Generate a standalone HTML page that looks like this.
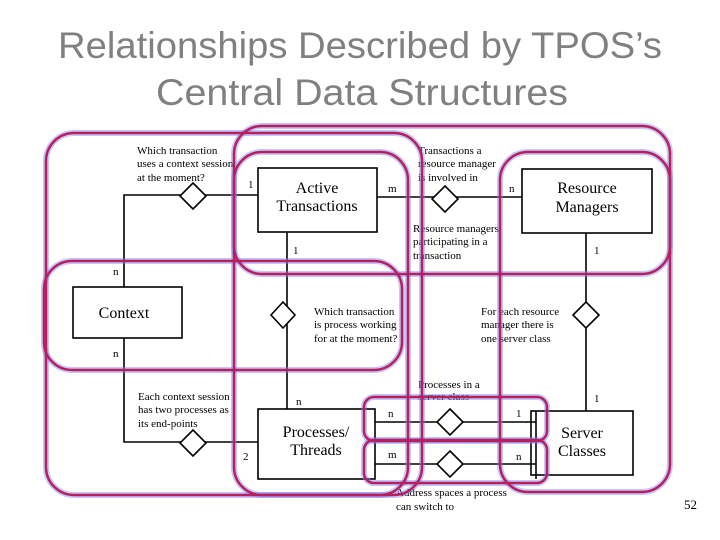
<!DOCTYPE html>
<html><head><meta charset="utf-8"><style>
html,body{margin:0;padding:0;background:#fff;width:720px;height:540px;overflow:hidden}
svg{display:block}
.t{font-family:"Liberation Serif",serif;font-size:11px;fill:#000}
.b{font-family:"Liberation Serif",serif;font-size:16px;fill:#000;text-anchor:middle}
.r{fill:none;stroke:#b8205a;stroke-width:2.5}
.g{fill:none;stroke:#8080ff;stroke-width:6;opacity:.45}
</style></head><body>
<svg width="720" height="540" viewBox="0 0 720 540">
<text x="360" y="58" text-anchor="middle" font-family="Liberation Sans,sans-serif" font-size="37" fill="#808080" textLength="604" lengthAdjust="spacingAndGlyphs">Relationships Described by TPOS’s</text>
<text x="362" y="105" text-anchor="middle" font-family="Liberation Sans,sans-serif" font-size="37" fill="#808080" textLength="412" lengthAdjust="spacingAndGlyphs">Central Data Structures</text>

<g stroke="#000" stroke-width="1.6" fill="none">
<rect x="258" y="168" width="119" height="64"/>
<rect x="522" y="169" width="130" height="64"/>
<rect x="73" y="287" width="109" height="51"/>
<rect x="258" y="409" width="117" height="70"/>
<rect x="531" y="411" width="102" height="64"/>
<line x1="536" y1="411" x2="536" y2="479"/>
<polyline points="124,287 124,195 258,195"/>
<polyline points="124,338 124,442 258,442"/>
<line x1="377" y1="197" x2="522" y2="197"/>
<line x1="287" y1="232" x2="287" y2="409"/>
<line x1="586" y1="233" x2="586" y2="411"/>
<line x1="375" y1="422" x2="536" y2="422"/>
<line x1="375" y1="464" x2="536" y2="464"/>
</g>
<g stroke="#000" stroke-width="1.6" fill="#fff">
<polygon points="193,183 206,196 193,209 180,196"/>
<polygon points="445,186 458,199 445,212 432,199"/>
<polygon points="283,302 295,315 283,328 271,315"/>
<polygon points="586,302 599,315 586,328 573,315"/>
<polygon points="193,430 206,443 193,456 180,443"/>
<polygon points="450,409 463,422 450,435 437,422"/>
<polygon points="450,451 463,464 450,477 437,464"/>
</g>

<text class="b" x="317" y="193">Active</text>
<text class="b" x="317" y="211">Transactions</text>
<text class="b" x="587" y="193">Resource</text>
<text class="b" x="587" y="212">Managers</text>
<text class="b" x="124" y="318">Context</text>
<text class="b" x="316" y="437">Processes/</text>
<text class="b" x="316" y="455">Threads</text>
<text class="b" x="582" y="438">Server</text>
<text class="b" x="582" y="456">Classes</text>

<g class="t">
<text x="137" y="154">Which transaction</text>
<text x="137" y="167">uses a context session</text>
<text x="137" y="181">at the moment?</text>
<text x="418" y="154">Transactions a</text>
<text x="418" y="167">resource manager</text>
<text x="418" y="181">is involved in</text>
<text x="413" y="232">Resource managers</text>
<text x="413" y="245">participating in a</text>
<text x="413" y="259">transaction</text>
<text x="314" y="315">Which transaction</text>
<text x="314" y="328">is process working</text>
<text x="314" y="342">for at the moment?</text>
<text x="481" y="315">For each resource</text>
<text x="481" y="328">manager there is</text>
<text x="481" y="342">one server class</text>
<text x="138" y="400">Each context session</text>
<text x="138" y="413">has two processes as</text>
<text x="138" y="427">its end-points</text>
<text x="418" y="388">Processes in a</text>
<text x="418" y="400">server class</text>
<text x="396" y="496">Address spaces a process</text>
<text x="396" y="510">can switch to</text>
<text x="248" y="188">1</text>
<text x="388" y="192">m</text>
<text x="509" y="192">n</text>
<text x="293" y="254">1</text>
<text x="594" y="254">1</text>
<text x="113" y="275">n</text>
<text x="113" y="357">n</text>
<text x="296" y="405">n</text>
<text x="594" y="402">1</text>
<text x="388" y="417">n</text>
<text x="516" y="417">1</text>
<text x="243" y="460">2</text>
<text x="388" y="458">m</text>
<text x="516" y="460">n</text>
<text x="684" y="509" font-size="13">52</text>
</g>

<g>
<rect class="g" x="46" y="133" width="376" height="362" rx="28"/>
<rect class="g" x="234" y="126" width="436" height="148" rx="28"/>
<rect class="g" x="234" y="152" width="174" height="343" rx="28"/>
<rect class="g" x="44" y="261" width="358" height="109" rx="28"/>
<rect class="g" x="500" y="152" width="170" height="340" rx="28"/>
<rect class="g" x="364" y="397" width="183" height="44" rx="10"/>
<rect class="g" x="364" y="440" width="183" height="43" rx="10"/>
<rect class="r" x="46" y="133" width="376" height="362" rx="28"/>
<rect class="r" x="234" y="126" width="436" height="148" rx="28"/>
<rect class="r" x="234" y="152" width="174" height="343" rx="28"/>
<rect class="r" x="44" y="261" width="358" height="109" rx="28"/>
<rect class="r" x="500" y="152" width="170" height="340" rx="28"/>
<rect class="r" x="364" y="397" width="183" height="44" rx="10"/>
<rect class="r" x="364" y="440" width="183" height="43" rx="10"/>
</g>
</svg>
</body></html>
